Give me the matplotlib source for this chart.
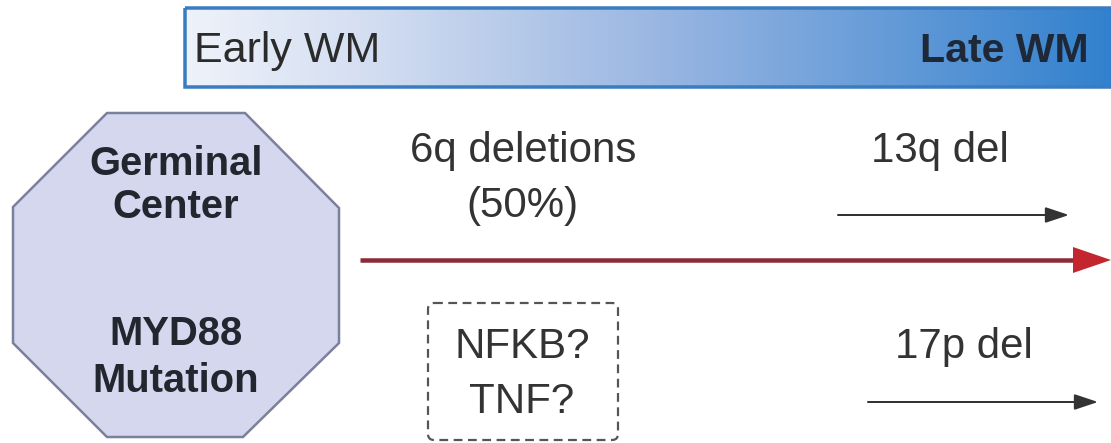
# Timeline diagram: early to late Waldenstrom macroglobulinemia (WM) events
import numpy as np
import matplotlib.pyplot as plt
from matplotlib.patches import Polygon, FancyBboxPatch, Rectangle
from matplotlib.colors import LinearSegmentedColormap

plt.rcParams['font.family'] = ['Liberation Sans', 'DejaVu Sans']

# Texts
banner_labels = ['Early WM', 'Late WM']
origin_labels = ['Germinal\nCenter', 'MYD88\nMutation']
early_labels = ['6q deletions\n(50%)', 'NFKB?\nTNF?']
late_labels = ['13q del', '17p del']

# Layout in pixel units of the 1111 x 443 image
W, H = 1111, 443
banner_box = (185, 8, 1120, 87)      # x0, y0, x1, y1
octagon = [(107, 113), (245, 113), (339, 208), (339, 343),
           (243, 437), (107, 437), (13, 343), (13, 207)]
main_arrow = (360, 1111, 260)        # x0, x1, y
late_arrows = [(838, 1069, 215), (868, 1098, 402)]
dash_box = (428, 303, 618, 440)

fig = plt.figure(figsize=(W / 100, H / 100), dpi=100)
ax = fig.add_axes([0, 0, 1, 1])
ax.set_xlim(0, W)
ax.set_ylim(H, 0)
ax.axis('off')

def px(v):
    # pixel size -> points
    return v * 0.72

# Gradient banner
bx0, by0, bx1, by1 = banner_box
grad_cmap = LinearSegmentedColormap.from_list('wm', [
    (0.0, (238/255, 242/255, 250/255)),
    (0.18, (214/255, 224/255, 242/255)),
    (0.50, (155/255, 183/255, 226/255)),
    (1.0, (48/255, 128/255, 206/255)),
])
grad = np.linspace(0, 1, 256).reshape(1, -1)
ax.imshow(grad, cmap=grad_cmap, extent=(bx0, bx1, by1, by0), aspect='auto', zorder=1)
ax.add_patch(Rectangle((bx0, by0), bx1 - bx0, by1 - by0, fill=False,
                       edgecolor='#3a7cc0', lw=px(3.5), zorder=2))
ax.text(194, 62, banner_labels[0], fontsize=px(43), color='#2b2b2b',
        ha='left', va='baseline', zorder=3)
ax.text(1089, 62, banner_labels[1], fontsize=px(41), color='#1e2836',
        fontweight='bold', ha='right', va='baseline', zorder=3)

# Octagon
ax.add_patch(Polygon(octagon, closed=True, facecolor='#d5d7ef',
                     edgecolor='#7b809c', lw=px(2.5), zorder=2))
origin_pos = [(175, 218), (345, 392)]
for (y1, y2), label in zip(origin_pos, origin_labels):
    top, bottom = label.split('\n')
    ax.text(176, y1, top, fontsize=px(40), fontweight='bold',
            color='#23262e', ha='center', va='baseline', zorder=3)
    ax.text(176, y2, bottom, fontsize=px(40), fontweight='bold',
            color='#23262e', ha='center', va='baseline', zorder=3)

# Main red arrow
mx0, mx1, my = main_arrow
ax.plot([mx0, mx1 - 36], [my, my], color='#8c2b38', lw=px(4.5),
        solid_capstyle='butt', zorder=2)
ax.add_patch(Polygon([(mx1 - 38, my - 13), (mx1, my), (mx1 - 38, my + 13)],
                     closed=True, facecolor='#c3262f', edgecolor='none', zorder=3))

# Early events
six_q, fifty = early_labels[0].split('\n')
ax.text(523, 162, six_q, fontsize=px(42), color='#333333', ha='center', va='baseline')
ax.text(522, 217, fifty, fontsize=px(42), color='#333333', ha='center', va='baseline')

dx0, dy0, dx1, dy1 = dash_box
ax.add_patch(FancyBboxPatch((dx0, dy0), dx1 - dx0, dy1 - dy0,
                            boxstyle='round,pad=0,rounding_size=6', fill=False,
                            edgecolor='#555555', lw=px(2.2), linestyle=(0, (4, 2.5))))
nfkb, tnf = early_labels[1].split('\n')
ax.text(522, 358, nfkb, fontsize=px(42), color='#333333', ha='center', va='baseline')
ax.text(522, 413, tnf, fontsize=px(42), color='#333333', ha='center', va='baseline')

# Late events
text_pos = [(940, 162), (964, 358)]
for (lx0, lx1, ly), (tx, ty), label in zip(late_arrows, text_pos, late_labels):
    ax.text(tx, ty, label, fontsize=px(42), color='#333333', ha='center', va='baseline')
    ax.annotate('', xy=(lx1, ly), xytext=(lx0, ly),
                arrowprops=dict(arrowstyle='-|>,head_length=0.9,head_width=0.3',
                                color='#333333', lw=px(2), shrinkA=0, shrinkB=0,
                                mutation_scale=16))

fig.savefig('out.png', dpi=100)
